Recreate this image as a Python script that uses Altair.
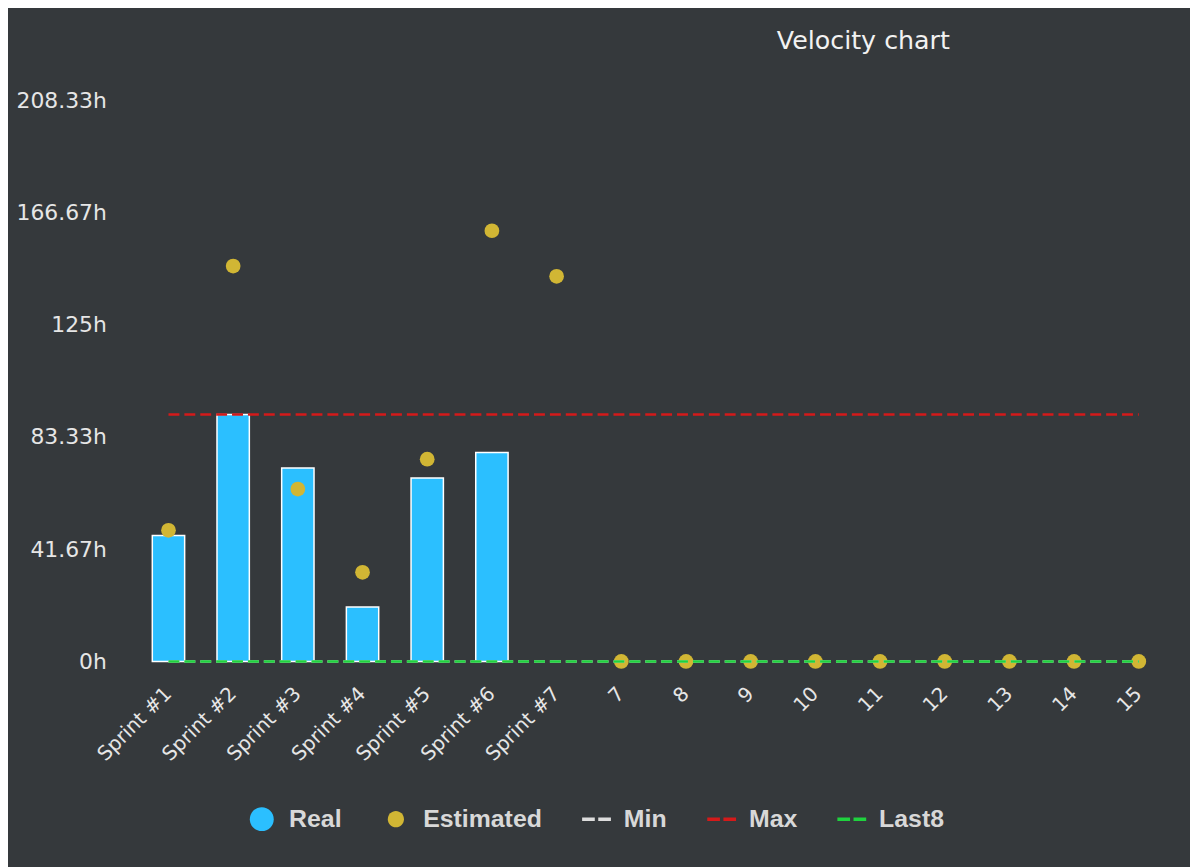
import altair as alt
import pandas as pd

# ---- data ----
categories = ["Sprint #1", "Sprint #2", "Sprint #3", "Sprint #4", "Sprint #5",
              "Sprint #6", "Sprint #7", "7", "8", "9", "10", "11", "12", "13", "14", "15"]
real_hours = [46.8, 91.7, 71.8, 20.2, 68.1, 77.6, None, None, None, None,
              None, None, None, None, None, None]
estimated_hours = [48.7, 146.8, 64.0, 33.1, 75.1, 159.9, 143.0, 0, 0, 0,
                   0, 0, 0, 0, 0, 0]
min_hours = 0.0
max_hours = 91.7
last8_hours = 0.0
y_ticks = [0, 41.667, 83.333, 125, 166.667, 208.333]
series_names = ["Real", "Estimated", "Min", "Max", "Last8"]
series_colors = ["#2BBFFF", "#D1B634", "#DDDDDD", "#D41A1A", "#1FD23E"]
color_of = dict(zip(series_names, series_colors))

# ---- legend symbol shapes ----
big_circle = "M-0.83,0A0.83,0.83,0,1,1,0.83,0A0.83,0.83,0,1,1,-0.83,0Z"
small_circle = "M-0.56,0A0.56,0.56,0,1,1,0.56,0A0.56,0.56,0,1,1,-0.56,0Z"
dash_pair = "M-1,-0.12H-0.12V0.12H-1Z M0.12,-0.12H1V0.12H0.12Z"
series_shapes = [big_circle, small_circle, dash_pair, dash_pair, dash_pair]

bars_df = pd.DataFrame({"category": categories, "value": real_hours}).dropna()
est_df = pd.DataFrame({"category": categories, "value": estimated_hours})


def line_df(val):
    return pd.DataFrame({"category": categories, "value": [val] * len(categories)})


legend_df = pd.DataFrame({"category": [categories[0]] * len(series_names),
                          "value": [0] * len(series_names), "series": series_names})

LABEL_FONT = "DejaVu Sans"
LABEL_COLOR = "#e6e6e6"

x_enc = alt.X("category:N", sort=categories,
              scale=alt.Scale(domain=categories, paddingInner=0.5, paddingOuter=0.25),
              axis=alt.Axis(title=None, labelAngle=-45, labelAlign="right", labelBaseline="middle",
                            labelFont=LABEL_FONT, labelFontSize=20, labelColor=LABEL_COLOR,
                            domain=False, ticks=False, tickSize=0, labelPadding=29, grid=False))
y_enc = alt.Y("value:Q",
              scale=alt.Scale(domain=[0, 208.333], nice=False, zero=True),
              axis=alt.Axis(title=None, values=y_ticks,
                            labelExpr="format(datum.value, '.2~f') + 'h'",
                            labelFont=LABEL_FONT, labelFontSize=22, labelColor=LABEL_COLOR,
                            domain=False, ticks=False, tickSize=0, labelPadding=30, grid=False))
color_scale = alt.Scale(domain=series_names, range=series_colors)
shape_scale = alt.Scale(domain=series_names, range=series_shapes)

bars = alt.Chart(bars_df).mark_bar(stroke="white", strokeWidth=1.5, color=color_of["Real"]).encode(
    x=x_enc, y=y_enc)

points = alt.Chart(est_df).mark_circle(size=220, opacity=1, color=color_of["Estimated"]).encode(
    x=x_enc, y=y_enc)

lines = []
for name, val in [("Min", min_hours), ("Max", max_hours), ("Last8", last8_hours)]:
    lines.append(alt.Chart(line_df(val)).mark_line(strokeDash=[11, 5], strokeWidth=2.5,
                                                   color=color_of[name]).encode(x=x_enc, y=y_enc))

leg = alt.Legend(orient="none", legendX=112, legendY=709, direction="horizontal", title=None,
                 columnPadding=40, labelOffset=13, symbolSize=841,
                 labelFont="Liberation Sans", labelFontWeight="bold", labelFontSize=25,
                 labelColor="#d8d8d8", symbolStrokeWidth=0, symbolOpacity=1, padding=0,
                 labelLimit=0)
legend_layer = alt.Chart(legend_df).mark_point(filled=True, opacity=0).encode(
    x=x_enc, y=y_enc,
    color=alt.Color("series:N", scale=color_scale, legend=leg),
    shape=alt.Shape("series:N", scale=shape_scale, legend=leg))

chart = alt.layer(bars, points, *lines, legend_layer).properties(
    width=1042, height=565,
    title=alt.TitleParams("Velocity chart", anchor="start", frame="group", dx=645,
                          font="DejaVu Sans", fontSize=25.5, fontWeight="normal",
                          color="#f2f2f2", offset=15, baseline="alphabetic"),
    padding={"left": 129, "top": 90, "right": 19, "bottom": 204},
    autosize=alt.AutoSizeParams(type="none"),
).configure(background="#35393c").configure_view(stroke=None)

chart.save("out.html", embed_options={"renderer": "svg", "actions": False})
